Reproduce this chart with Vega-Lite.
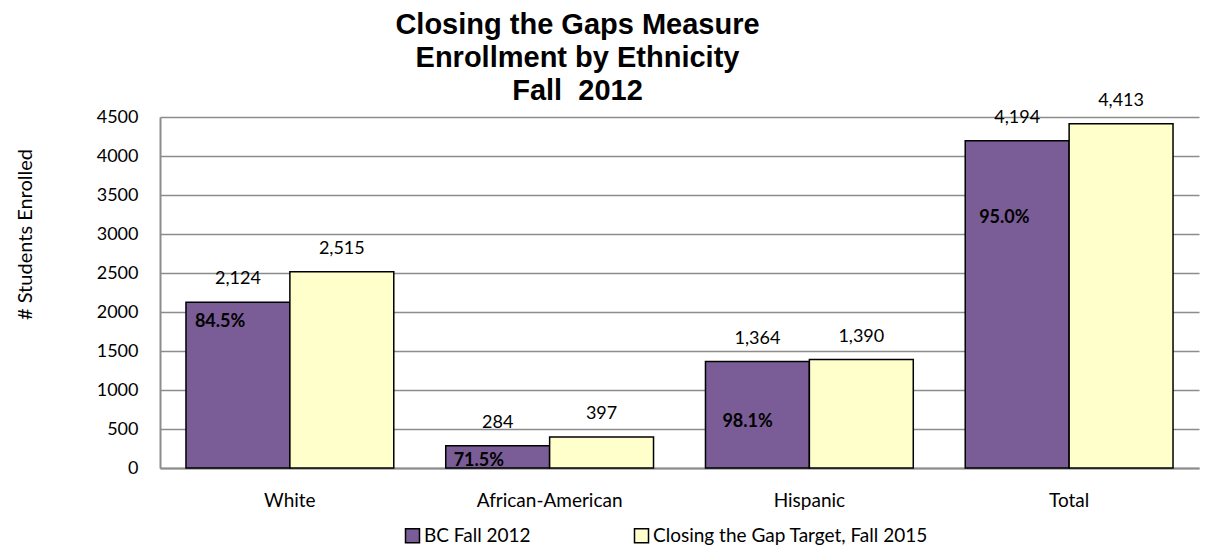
{
  "$schema": "https://vega.github.io/schema/vega-lite/v6.json",
  "autosize": "none",
  "width": 1039,
  "height": 351,
  "padding": {"left": 160, "top": 117, "right": 30, "bottom": 88},
  "background": "white",
  "title": {
    "text": ["Closing the Gaps Measure", "Enrollment by Ethnicity", "Fall\u00a0 2012"],
    "font": "Liberation Sans",
    "fontSize": 29,
    "fontWeight": "bold",
    "lineHeight": 33,
    "color": "#000000",
    "anchor": "middle",
    "dx": -102,
    "offset": -14
  },
  "config": {
    "view": {"stroke": null},
    "font": "Lato"
  },
  "data": {
    "values": [
      {"category": "White", "series": "BC Fall 2012", "value": 2124, "pct": "84.5%"},
      {"category": "White", "series": "Closing the Gap Target, Fall 2015", "value": 2515},
      {"category": "African-American", "series": "BC Fall 2012", "value": 284, "pct": "71.5%"},
      {"category": "African-American", "series": "Closing the Gap Target, Fall 2015", "value": 397},
      {"category": "Hispanic", "series": "BC Fall 2012", "value": 1364, "pct": "98.1%"},
      {"category": "Hispanic", "series": "Closing the Gap Target, Fall 2015", "value": 1390},
      {"category": "Total", "series": "BC Fall 2012", "value": 4194, "pct": "95.0%"},
      {"category": "Total", "series": "Closing the Gap Target, Fall 2015", "value": 4413}
    ]
  },
  "encoding": {
    "x": {
      "field": "category",
      "type": "nominal",
      "sort": null,
      "scale": {"paddingInner": 0.2, "paddingOuter": 0.1},
      "axis": {
        "title": null,
        "labelAngle": 0,
        "labelFont": "Lato",
        "labelFontSize": 19,
        "labelColor": "#000000",
        "labelPadding": 23,
        "ticks": false,
        "domainColor": "#8c8c8c",
        "domainWidth": 2
      }
    },
    "xOffset": {"field": "series", "type": "nominal", "sort": null},
    "y": {
      "field": "value",
      "type": "quantitative",
      "scale": {"domain": [0, 4500], "nice": false},
      "axis": {
        "title": "# Students Enrolled",
        "values": [0, 500, 1000, 1500, 2000, 2500, 3000, 3500, 4000, 4500],
        "format": "d",
        "labelFont": "Lato",
        "labelFontSize": 18,
        "labelColor": "#000000",
        "labelPadding": 22,
        "ticks": false,
        "domainColor": "#8c8c8c",
        "domainWidth": 2,
        "gridColor": "#8c8c8c",
        "gridWidth": 1.5,
        "titleFont": "Lato",
        "titleFontSize": 20,
        "titleFontWeight": "normal",
        "titleColor": "#000000",
        "titleAngle": -90,
        "titleX": -135,
        "titleY": 117,
        "titleAlign": "center",
        "titleBaseline": "middle"
      }
    }
  },
  "layer": [
    {
      "mark": {"type": "bar", "stroke": "#000000", "strokeWidth": 1.5},
      "encoding": {
        "color": {
          "field": "series",
          "type": "nominal",
          "sort": null,
          "scale": {
            "domain": ["BC Fall 2012", "Closing the Gap Target, Fall 2015"],
            "range": ["#7a5c96", "#ffffcc"]
          },
          "legend": {
            "orient": "none",
            "legendX": 243,
            "legendY": 409,
            "direction": "horizontal",
            "title": null,
            "padding": 0,
            "symbolType": "square",
            "symbolSize": 196,
            "symbolStrokeColor": "#000000",
            "symbolStrokeWidth": 1.5,
            "labelFont": "Lato",
            "labelFontSize": 19,
            "labelColor": "#000000",
            "labelOffset": 2,
            "columnPadding": 100,
            "labelLimit": 400
          }
        }
      }
    },
    {
      "mark": {"type": "text", "baseline": "middle", "align": "center", "dy": -23, "fontSize": 18, "font": "Lato", "color": "#000000"},
      "encoding": {
        "text": {"field": "value", "type": "quantitative", "format": ","}
      }
    },
    {
      "transform": [{"filter": "datum.category === 'White' && isValid(datum.pct)"}],
      "mark": {"type": "text", "baseline": "middle", "align": "left", "dx": -43, "dy": 20, "fontSize": 18, "fontWeight": "bold", "font": "Lato", "color": "#000000"},
      "encoding": {"text": {"field": "pct", "type": "nominal"}}
    },
    {
      "transform": [{"filter": "datum.category === 'African-American' && isValid(datum.pct)"}],
      "mark": {"type": "text", "baseline": "middle", "align": "left", "dx": -44, "dy": 15, "fontSize": 18, "fontWeight": "bold", "font": "Lato", "color": "#000000"},
      "encoding": {"text": {"field": "pct", "type": "nominal"}}
    },
    {
      "transform": [{"filter": "datum.category === 'Hispanic' && isValid(datum.pct)"}],
      "mark": {"type": "text", "baseline": "middle", "align": "left", "dx": -35, "dy": 60, "fontSize": 18, "fontWeight": "bold", "font": "Lato", "color": "#000000"},
      "encoding": {"text": {"field": "pct", "type": "nominal"}}
    },
    {
      "transform": [{"filter": "datum.category === 'Total' && isValid(datum.pct)"}],
      "mark": {"type": "text", "baseline": "middle", "align": "left", "dx": -38, "dy": 77, "fontSize": 18, "fontWeight": "bold", "font": "Lato", "color": "#000000"},
      "encoding": {"text": {"field": "pct", "type": "nominal"}}
    }
  ]
}
